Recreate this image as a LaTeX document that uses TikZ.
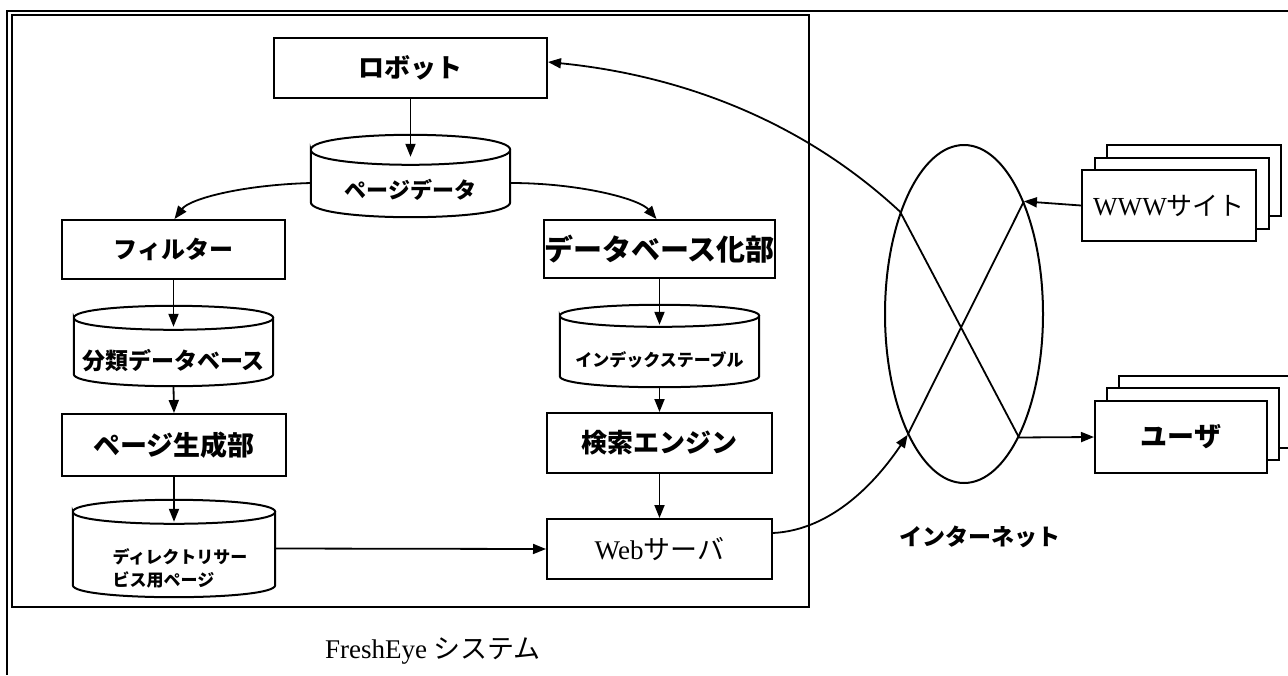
\documentclass[tikz,border=0pt]{standalone}
\usepackage{fontspec}
\setmainfont{Liberation Serif}
\newfontfamily\jp{Noto Sans CJK JP}
\usetikzlibrary{arrows.meta,shapes.geometric,calc}
\tikzset{
  box/.style={draw, line width=2pt, fill=white, inner sep=0pt},
  cylbox/.style={inner sep=0pt},
  jl/.style={font=\jp\bfseries\fontsize{#1}{#1}\selectfont},
  sl/.style={font=\fontsize{#1}{#1}\selectfont},
  arr/.style={line width=1.8pt, -{Triangle[length=13pt,width=10pt]}},
  ln/.style={line width=1.8pt},
}
\newcommand\cylshape[3]{%
  \draw[line width=2pt] ([yshift=-#2]#1.north west) .. controls +(0pt,#3) and +(0pt,#3) .. ([yshift=-#2]#1.north east)
    .. controls +(0pt,-#3) and +(0pt,-#3) .. ([yshift=-#2]#1.north west)
    -- ([yshift=#2]#1.south west) .. controls +(0pt,-#3) and +(0pt,-#3) .. ([yshift=#2]#1.south east)
    -- ([yshift=-#2]#1.north east);
}
\begin{document}
\begin{tikzpicture}[x=1pt,y=-1pt]
\useasboundingbox (0,0) rectangle (1288,675);
% frames
\draw[line width=2.2pt] (1288,11) -- (7,11) -- (7,675);
\draw[line width=2pt] (12,15) rectangle (809,607);

% left/center column
\node[box, minimum width=273pt, minimum height=60pt, jl=26pt] (rob) at (410.5,68) {ロボット};
\node[cylbox, minimum width=199pt, minimum height=82pt,
      label={[jl=22pt, yshift=-14pt]center:ページデータ}] (pd) at (410.5,176) {};
\cylshape{pd}{15pt}{20pt}

\node[box, minimum width=223pt, minimum height=59pt, jl=24pt] (fil) at (173.5,249.5) {フィルター};
\node[cylbox, minimum width=199pt, minimum height=80pt,
      label={[jl=23pt, yshift=-15pt]center:分類データベース}] (cls) at (173.5,346) {};
\cylshape{cls}{12pt}{16pt}
\node[box, minimum width=224pt, minimum height=62pt, jl=27pt] (gen) at (174,445) {ページ生成部};
\node[cylbox, minimum width=202pt, minimum height=97pt,
      label={[font=\jp\bfseries\fontsize{17pt}{23pt}\selectfont, align=left, yshift=-20pt, xshift=6pt]center:ディレクトリサー\\ビス用ページ}] (dir) at (174,548.5) {};
\cylshape{dir}{12pt}{16pt}

% right column
\node[box, minimum width=225pt, minimum height=58pt, jl=29pt] (dbz) at (659.5,249) {データベース化部};
\node[cylbox, minimum width=199pt, minimum height=82pt,
      label={[jl=17pt, yshift=-14pt]center:インデックステーブル}] (idx) at (659.5,346) {};
\cylshape{idx}{11pt}{14.7pt}
\node[box, minimum width=225pt, minimum height=60pt, jl=26pt] (sea) at (659.5,443) {検索エンジン};
\node[box, minimum width=225pt, minimum height=60pt, sl=27pt] (web) at (659.5,549) {Web{\jp サーバ}};

% internet
\node[draw, ellipse, line width=2pt, minimum width=158pt, minimum height=338pt, inner sep=0pt] (net) at (964,314) {};
\coordinate (xa) at (net.122);
\coordinate (xb) at (net.62);
\coordinate (xc) at (net.245);
\coordinate (xd) at (net.294);
\node[jl=23pt] (inet) at (980,537) {インターネット};

% WWW sites stack
\draw[line width=2pt, fill=white] (1107,145) rectangle (1281,216);
\draw[line width=2pt, fill=white] (1094.5,157.5) rectangle (1268.5,228.5);
\node[box, minimum width=174pt, minimum height=71pt, sl=26pt] (www) at (1169,205.5) {WWW{\jp サイト}};

% users stack
\draw[line width=2pt, fill=white] (1119,376) rectangle (1291,448);
\draw[line width=2pt, fill=white] (1107,388) rectangle (1279,460);
\node[box, minimum width=172pt, minimum height=72pt, jl=27pt] (user) at (1181,437) {ユーザ};

\node[sl=27pt] (sys) at (433,651) {FreshEye {\jp システム}};

% connectors
\draw[arr] (rob.south) -- ([yshift=-22pt]pd.north);
\draw[arr] ([yshift=-7pt]pd.west) .. controls +(-70,2) and +(15,-20) .. ([xshift=1pt]fil.north);
\draw[arr] ([yshift=-7pt]pd.east) .. controls +(70,0) and +(-17,-20) .. ([xshift=-3pt]dbz.north);
\draw[arr] (fil.south) -- ([yshift=-21pt]cls.north);
\draw[arr] (cls.south) -- (gen.north);
\draw[arr] (gen.south) -- ([yshift=-22pt]dir.north);
\draw[arr] (dir.east) -- (web.west);
\draw[arr] (dbz.south) -- ([yshift=-20pt]idx.north);
\draw[arr] (idx.south) -- (sea.north);
\draw[arr] (sea.south) -- (web.north);

\draw[ln] (xb) -- (xc);
\draw[arr] (xa) -- (xd) -- (user.west);
\draw[arr] (www.west) -- (xb);
\draw[arr] ([yshift=16pt]web.east) .. controls +(60,-3) and +(-30,45) .. (xc);
\draw[arr] (xa) .. controls +(-100,-93) and +(130,13) .. ([yshift=6pt]rob.east);
\end{tikzpicture}
\end{document}
